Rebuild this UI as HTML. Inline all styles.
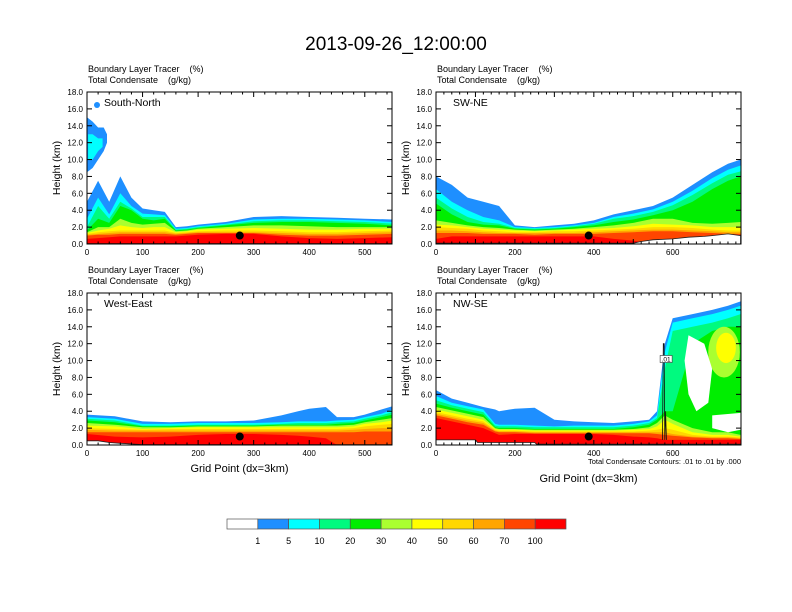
<!DOCTYPE html>
<html><head><meta charset="utf-8"><style>
html,body{margin:0;padding:0;background:#fff;}
svg{display:block;font-family:"Liberation Sans",Arial,sans-serif;}
</style></head><body>
<svg id="chart" width="792" height="612" viewBox="0 0 792 612" xmlns="http://www.w3.org/2000/svg">
<text x="396" y="50" font-size="19" text-anchor="middle">2013-09-26_12:00:00</text>
</svg>
<script>
// ---- data ----
const levelLabels = ['1','5','10','20','30','40','50','60','70','100'];
const levelColors = ['#1e8fff','#00ffff','#00fa7f','#00ee00','#aaff30','#ffff00','#ffd700','#ffa500','#ff4500','#ff0000'];
const yTickLabels = ['0.0','2.0','4.0','6.0','8.0','10.0','12.0','14.0','16.0','18.0'];
const yTickValues = [0,2,4,6,8,10,12,14,16,18];

// Panel 1: South-North
const p1X = [0,20,40,60,80,100,120,140,160,180,200,250,300,350,400,450,500,550];
const p1Bands = [
 [5,7.5,5,8,5.5,4.2,4,3.8,2,2.1,2.3,2.6,3.2,3.3,3.2,3.1,3.0,2.9],
 [3,5.5,3.5,6,4.5,3.6,3.5,3.4,1.8,1.9,2.1,2.4,2.9,3.0,3.0,2.9,2.8,2.6],
 [2,4.5,3,5,4.2,3.2,3.2,3.2,1.7,1.8,2.0,2.3,2.7,2.8,2.8,2.7,2.6,2.4],
 [1.6,3,2.5,4.5,4,3,2.8,3.0,1.6,1.7,1.9,2.2,2.5,2.6,2.6,2.5,2.4,2.2],
 [1.4,2,2,3,2.5,2.3,2.4,2.5,1.5,1.6,1.8,2.0,2.2,2.2,2.1,2.0,2.0,2.0],
 [1.3,1.6,1.8,2.2,2.0,1.9,2.0,2.0,1.4,1.5,1.7,1.8,1.9,1.8,1.7,1.7,1.8,1.8],
 [1.2,1.4,1.5,1.6,1.6,1.6,1.6,1.6,1.3,1.4,1.5,1.6,1.6,1.5,1.4,1.4,1.5,1.6],
 [1.1,1.2,1.3,1.4,1.4,1.4,1.4,1.4,1.2,1.3,1.4,1.4,1.4,1.3,1.2,1.2,1.3,1.4],
 [1.0,1.1,1.1,1.2,1.2,1.2,1.2,1.2,1.1,1.2,1.3,1.3,1.3,1.1,1.0,1.0,1.1,1.2],
 [0.6,0.7,0.8,0.9,0.9,0.9,0.9,0.9,0.9,1.0,1.1,1.2,1.2,0.9,0.7,0.6,0.7,0.8]
];
const p1CloudX = [0,10,20,30,36];
const p1CloudBottom = [8.5,9,10,11,12];
const p1CloudTop = [15,14.5,13.8,13.8,13];
const p1CloudInnerX = [2,10,20,28];
const p1CloudInnerBottom = [10,10,11,11.5];
const p1CloudInnerTop = [13,13,12.5,12.5];
const p1TerrainX = [0,550];
const p1Terrain = [0.05,0.05];

// Panel 2: SW-NE
const p2X = [0,40,80,120,160,200,250,300,350,400,450,500,550,600,650,700,740,772];
const p2Bands = [
 [8,7,5.5,5,4.5,2.2,2.0,2.2,2.4,2.8,3.5,4.0,4.5,5.5,7,8.5,9.5,10],
 [6.5,5,4,3.2,2.8,2.0,1.9,2.0,2.2,2.5,3.2,3.6,4.1,5.0,6.3,7.8,8.8,9.3],
 [5.5,4.2,3.2,2.6,2.4,1.9,1.8,1.9,2.1,2.4,3.0,3.3,3.8,4.6,5.8,7.2,8.2,8.6],
 [4.8,3.5,2.6,2.3,2.2,1.8,1.7,1.8,2.0,2.2,2.6,2.9,3.4,4.0,5.0,6.5,7.5,8.0],
 [2.8,2.5,2.2,2.0,1.9,1.7,1.6,1.7,1.8,2.0,2.2,2.5,3.0,3.0,2.5,2.4,2.5,2.6],
 [2.3,2.2,2.0,1.8,1.7,1.6,1.5,1.6,1.7,1.8,1.9,2.1,2.4,2.3,2.2,2.0,2.0,2.0],
 [2.0,1.9,1.8,1.6,1.5,1.4,1.4,1.5,1.5,1.6,1.7,1.8,2.0,2.0,1.9,1.7,1.6,1.6],
 [1.6,1.6,1.5,1.4,1.3,1.3,1.3,1.3,1.3,1.4,1.5,1.6,1.7,1.7,1.6,1.5,1.4,1.4],
 [1.3,1.3,1.3,1.2,1.2,1.2,1.1,1.2,1.2,1.2,1.3,1.4,1.5,1.5,1.4,1.3,1.2,1.2],
 [0.6,0.9,0.9,0.9,0.9,0.9,0.9,0.9,0.9,0.9,0.6,0.4,0,0,0,0,0,0]
];
const p2TerrainX = [0,500,520,550,600,640,680,700,740,772];
const p2Terrain = [0.1,0.1,0.3,0.5,0.6,0.8,0.9,1.0,1.2,1.0];

// Panel 3: West-East
const p3X = [0,50,100,150,200,250,300,350,380,400,430,450,480,500,530,550];
const p3Bands = [
 [3.6,3.4,2.8,2.7,2.8,2.8,2.9,3.5,4.0,4.3,4.5,3.3,3.3,3.6,4.2,4.6],
 [3.3,3.1,2.5,2.5,2.6,2.6,2.6,2.7,2.8,2.8,2.8,2.9,3.0,3.3,3.7,4.2],
 [3.1,2.9,2.3,2.3,2.4,2.4,2.4,2.5,2.6,2.6,2.6,2.7,2.8,3.1,3.5,3.9],
 [2.9,2.7,2.2,2.2,2.3,2.3,2.3,2.4,2.4,2.4,2.4,2.5,2.6,2.9,3.3,3.6],
 [2.6,2.4,2.1,2.1,2.2,2.2,2.2,2.3,2.3,2.3,2.3,2.3,2.4,2.7,3.0,3.2],
 [2.3,2.2,1.9,2.0,2.1,2.1,2.1,2.1,2.1,2.1,2.1,2.1,2.2,2.5,2.7,2.9],
 [2.0,1.9,1.8,1.9,1.9,1.9,1.9,1.9,1.9,1.9,1.9,1.9,2.0,2.2,2.4,2.5],
 [1.8,1.7,1.7,1.7,1.7,1.7,1.7,1.7,1.7,1.7,1.7,1.7,1.8,1.9,2.0,2.0],
 [1.5,1.5,1.5,1.5,1.5,1.5,1.5,1.5,1.5,1.5,1.5,1.5,1.5,1.6,1.6,1.6],
 [1.3,1.0,0.9,1.0,1.2,1.3,1.3,1.2,1.1,1.0,0.8,0,0,0,0,0]
];
const p3TerrainX = [0,20,40,60,100,550];
const p3Terrain = [0.5,0.5,0.3,0.2,0.05,0.05];

// Panel 4: NW-SE
const p4X = [0,40,80,120,150,160,200,250,300,350,400,450,500,540,560,580,600,650,700,740,772];
const p4Bands = [
 [6.5,5.5,5.0,4.5,4.2,4.0,4.3,4.4,3.0,2.8,2.7,2.6,2.8,3.0,4.0,12,15,15.5,16,16.5,17],
 [5.8,5.0,4.6,4.2,2.5,2.4,2.4,2.3,2.2,2.3,2.3,2.3,2.5,2.8,3.5,11,14.5,15,15.5,16,16.5],
 [5.3,4.7,4.3,3.9,2.3,2.2,2.2,2.1,2.1,2.1,2.1,2.1,2.3,2.6,3.2,9,13.5,14,14.5,15,15.5],
 [4.9,4.4,4.0,3.6,2.1,2.0,2.0,1.9,1.9,1.9,1.9,1.9,2.1,2.4,3.0,4,4,12,13.5,14,14],
 [4.5,4.1,3.7,3.3,2.0,1.9,1.9,1.8,1.8,1.8,1.8,1.8,1.9,2.1,2.6,3.5,3,2,1.5,1.5,1.2],
 [4.2,3.8,3.4,3.0,1.9,1.8,1.8,1.7,1.7,1.7,1.7,1.7,1.8,1.9,2.2,3.0,2.5,1.5,1.2,1.2,1.0],
 [3.9,3.5,3.1,2.8,1.8,1.7,1.7,1.6,1.6,1.6,1.6,1.6,1.6,1.7,1.8,2.0,1.8,1.2,1.0,1.0,0.9],
 [3.7,3.3,2.9,2.6,1.7,1.6,1.6,1.5,1.5,1.5,1.5,1.5,1.5,1.5,1.5,1.5,1.3,1.0,0.9,0.9,0.8],
 [3.5,3.1,2.7,2.4,1.6,1.5,1.5,1.4,1.4,1.4,1.4,1.4,1.4,1.4,1.3,1.2,1.1,0.9,0.8,0.8,0.7],
 [3.2,2.8,2.4,2.0,1.4,1.2,1.3,1.3,1.3,1.3,1.3,1.2,1.0,0.9,0.8,0.6,0.6,0.6,0.6,0.6,0.6]
];
const p4BlobX = [730,735];
const p4BlobY = [11,11.5];
const p4BlobRx = [40,25];
const p4BlobRy = [3,1.8];
const p4BlobLevel = [4,5];
const p4HoleX = [[640,680,700,690,660,640,630],[700,772,772,740,700]];
const p4HoleY = [[13,12,9,5,4,6,10],[3.5,3.8,1.8,1.5,2.0]];
const p4TerrainX = [0,100,105,250,255,772];
const p4Terrain = [0.6,0.6,0.3,0.3,0.1,0.1];
const p4ContourX = [574,576,578,580,582,584];
const p4ContourY = [0.6,12,12,0.6,4,0.6];

const dotX = [275,387,275,387];
const dotY = [1.0,1.0,1.0,1.0];

// ---- layout ----
const NS = 'http://www.w3.org/2000/svg';
const svg = document.getElementById('chart');
function mk(tag, attrs, parent){
  const e = document.createElementNS(NS, tag);
  for (const k in attrs) e.setAttribute(k, attrs[k]);
  (parent||svg).appendChild(e);
  return e;
}
const panels = [
  {id:'south-north', label:'South-North', left:87, top:92, w:305, h:152, xmax:549, xticks:[0,100,200,300,400,500], X:p1X, B:p1Bands, TX:p1TerrainX, T:p1Terrain},
  {id:'sw-ne', label:'SW-NE', left:436, top:92, w:305, h:152, xmax:773, xticks:[0,200,400,600], X:p2X, B:p2Bands, TX:p2TerrainX, T:p2Terrain},
  {id:'west-east', label:'West-East', left:87, top:293, w:305, h:152, xmax:549, xticks:[0,100,200,300,400,500], X:p3X, B:p3Bands, TX:p3TerrainX, T:p3Terrain},
  {id:'nw-se', label:'NW-SE', left:436, top:293, w:305, h:152, xmax:773, xticks:[0,200,400,600], X:p4X, B:p4Bands, TX:p4TerrainX, T:p4Terrain}
];

panels.forEach((p, pi) => {
  const sx = v => p.left + v * p.w / p.xmax;
  const sy = v => p.top + p.h - v * p.h / 18;
  const bot = p.top + p.h;
  const g = mk('g', {});
  
  
  const cp = mk('clipPath', {id:'clip'+pi}, g);
  mk('rect', {x:p.left, y:p.top, width:p.w, height:p.h}, cp);
  const plot = mk('g', {'clip-path':'url(#clip'+pi+')'}, g);

  p.B.forEach((arr, li) => {
    let d = 'M' + sx(p.X[0]) + ',' + bot;
    arr.forEach((v, i) => { d += ' L' + sx(p.X[i]).toFixed(1) + ',' + sy(v).toFixed(1); });
    d += ' L' + sx(p.X[p.X.length-1]) + ',' + bot + ' Z';
    const e = mk('path', {d:d, fill:levelColors[li]}, plot);
    
    
  });

  if (pi === 0) {
    const drawCloud = (xs, b, t, col, nm) => {
      let d = '';
      xs.forEach((x, i) => { d += (i ? ' L' : 'M') + sx(x).toFixed(1) + ',' + sy(t[i]).toFixed(1); });
      for (let i = xs.length - 1; i >= 0; i--) d += ' L' + sx(xs[i]).toFixed(1) + ',' + sy(b[i]).toFixed(1);
      const e = mk('path', {d:d + ' Z', fill:col}, plot);
      
      
    };
    drawCloud(p1CloudX, p1CloudBottom, p1CloudTop, levelColors[0], 'upper-cloud');
    drawCloud(p1CloudInnerX, p1CloudInnerBottom, p1CloudInnerTop, levelColors[1], 'upper-cloud-core');
  }
  if (pi === 3) {
    p4BlobX.forEach((bx, i) => {
      const e = mk('ellipse', {cx:sx(bx), cy:sy(p4BlobY[i]), rx:p4BlobRx[i]*p.w/p.xmax, ry:p4BlobRy[i]*p.h/18, fill:levelColors[p4BlobLevel[i]]}, plot);
      
      
    });
    p4HoleX.forEach((hx, k) => {
      let d = '';
      hx.forEach((x, i) => { d += (i ? ' L' : 'M') + sx(x).toFixed(1) + ',' + sy(p4HoleY[k][i]).toFixed(1); });
      const e = mk('path', {d:d + ' Z', fill:'#fff'}, plot);
      
      
    });
  }
  let td = 'M' + sx(p.TX[0]) + ',' + bot;
  p.TX.forEach((x, i) => { td += ' L' + sx(x).toFixed(1) + ',' + sy(p.T[i]).toFixed(1); });
  td += ' L' + sx(p.TX[p.TX.length-1]) + ',' + bot + ' Z';
  const te = mk('path', {d:td, fill:'#fff', stroke:'#222', 'stroke-width':0.8}, plot);
  
  

  if (pi === 3) {
    let d = '';
    p4ContourX.forEach((x, i) => { d += (i ? ' L' : 'M') + sx(x).toFixed(1) + ',' + sy(p4ContourY[i]).toFixed(1); });
    const c = mk('path', {d:d, fill:'none', stroke:'#111', 'stroke-width':0.8}, plot);
    
    
    const lb = mk('rect', {x:sx(568), y:sy(10.6), width:12, height:7, fill:'#fff', stroke:'#333', 'stroke-width':0.6}, plot);
    
    
    const lt = mk('text', {x:sx(568)+6, y:sy(10.6)+6, 'font-size':6.5, 'text-anchor':'middle'}, plot);
    lt.textContent = '.01';
  }

  const dot = mk('circle', {cx:sx(dotX[pi]), cy:sy(dotY[pi]), r:4, fill:'#000'}, plot);
  
  

  mk('rect', {x:p.left, y:p.top, width:p.w, height:p.h, fill:'none', stroke:'#000', 'stroke-width':1}, g);

  yTickValues.forEach((v, i) => {
    const y = sy(v);
    mk('line', {x1:p.left, x2:p.left+5, y1:y, y2:y, stroke:'#000', 'stroke-width':1}, g);
    mk('line', {x1:p.left+p.w, x2:p.left+p.w-5, y1:y, y2:y, stroke:'#000', 'stroke-width':1}, g);
    const t = mk('text', {x:p.left-4, y:y+3, 'font-size':8, 'text-anchor':'end'}, g);
    t.textContent = yTickLabels[i];
    
    
  });
  for (let v = 0; v <= p.xmax; v += 20) {
    const major = (v % 100 === 0);
    const len = major ? 5 : 2.5;
    const x = sx(v);
    mk('line', {x1:x, x2:x, y1:bot, y2:bot-len, stroke:'#000', 'stroke-width':1}, g);
    mk('line', {x1:x, x2:x, y1:p.top, y2:p.top+len, stroke:'#000', 'stroke-width':1}, g);
  }
  p.xticks.forEach(v => {
    const t = mk('text', {x:sx(v), y:bot+11, 'font-size':8, 'text-anchor':'middle'}, g);
    t.textContent = String(v);
    
    
  });

  const yl = mk('text', {x:0, y:0, 'font-size':10.5, 'text-anchor':'middle', transform:'translate(' + (p.left-27) + ',' + (p.top+p.h/2) + ') rotate(-90)'}, g);
  yl.textContent = 'Height (km)';
  
  

  const s1 = mk('text', {x:p.left+1, y:p.top-20, 'font-size':9}, g);
  s1.textContent = 'Boundary Layer Tracer\u00a0\u00a0\u00a0\u00a0(%)';
  
  
  const s2 = mk('text', {x:p.left+1, y:p.top-9, 'font-size':9}, g);
  s2.textContent = 'Total Condensate\u00a0\u00a0\u00a0\u00a0(g/kg)';
  
  

  const pl = mk('text', {x:p.left+17, y:p.top+14, 'font-size':10.5}, g);
  pl.textContent = p.label;
  
  
  if (pi === 0) {
    const bd = mk('circle', {cx:p.left+10, cy:p.top+13, r:3, fill:levelColors[0]}, g);
    
    
  }
  if (pi >= 2) {
    const xt = mk('text', {x:p.left+p.w/2, y:(pi === 3 ? 482 : 472), 'font-size':11, 'text-anchor':'middle'}, g);
    xt.textContent = 'Grid Point (dx=3km)';
    
    
  }
  if (pi === 3) {
    const ct = mk('text', {x:p.left+p.w, y:bot+19, 'font-size':7.5, 'text-anchor':'end'}, g);
    ct.textContent = 'Total Condensate Contours: .01 to .01 by .000';
    
    
  }
});

// ---- label bar ----
const lbLeft = 227, lbTop = 519, lbW = 339, lbH = 10;
const boxColors = ['#ffffff'].concat(levelColors);
const lbg = mk('g', {});


const bw = lbW / boxColors.length;
boxColors.forEach((c, i) => {
  const r = mk('rect', {x:lbLeft + i*bw, y:lbTop, width:bw, height:lbH, fill:c, stroke:'#555', 'stroke-width':0.7}, lbg);
  
  
});
levelLabels.forEach((l, i) => {
  const t = mk('text', {x:lbLeft + (i+1)*bw, y:544, 'font-size':9, 'text-anchor':'middle'}, lbg);
  t.textContent = l;
  
  
});
</script>
</body></html>
